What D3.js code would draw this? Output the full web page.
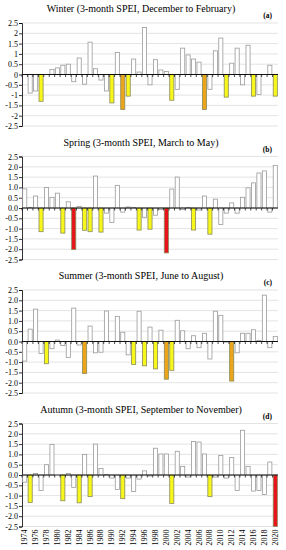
<!DOCTYPE html>
<html>
<head>
<meta charset="utf-8">
<script src="https://cdn.jsdelivr.net/npm/d3@7"></script>
<style>
  body { margin: 0; background: #fff; }
  text { font-family: "Liberation Serif", "DejaVu Serif", serif; fill: #000; }
</style>
</head>
<body>
<script>
// years 1974 - 2020
let years = d3.range(1974, 2021);

let winter = [0, -0.9, -0.8, -1.3, 0, 0.25, 0.32, 0.45, 0.5, -0.35, 0.8, -0.47, 1.57, 0.28, -0.27, -0.8,
  -1.38, 1.07, -1.7, -1.05, 0.75, 0.12, 2.28, -0.5, 0.72, 0.22, 0.15, -1.25, -0.72, 1.28, 0.95, 0.75,
  0.6, -1.7, -0.72, 1.15, 1.77, -1.1, 0.55, 1.28, -0.5, 1.42, -1.05, -0.97, 0, 0.45, -1.05];

let spring = [0.93, 0.03, 0.58, -1.15, 1.0, 0.52, 0.72, -1.22, 0.3, -2.02, 0.08, -1.08, -1.15, 1.55, -1.17, -0.25,
  -0.7, 1.1, -0.2, 0.05, 0.03, -1.07, -0.45, -1.03, -0.35, -0.08, -2.18, 0.92, 1.5, -0.08, 0.03, -1.07,
  -0.1, 0.58, -1.27, 0.43, -0.8, -0.25, 0.25, -0.25, 0.52, 0.98, 1.22, 1.7, 1.8, -0.2, 2.07];

let summer = [-0.95, 0.6, 1.57, -0.58, -1.08, -0.35, 0.07, -0.2, -0.78, 1.62, -0.17, -1.55, 0.75, -0.55, -0.52, 1.48,
  0, 1.22, 0.45, -0.65, -1.12, 1.47, -1.18, 0.7, -1.33, 0.55, -1.83, -1.4, 1.03, 0.52, -0.35, 0.28,
  -0.3, 0.4, -0.85, 1.47, 1.27, -0.03, -1.92, -0.55, 0.4, 0.4, 0.57, 0.05, 2.25, -0.3, 0.25];

let autumn = [-0.35, -1.33, 0.07, -0.75, 0.5, 1.48, 0, -1.25, 0.07, -0.6, -1.35, 1.0, -1.05, 1.5, 0.32, 0.03,
  -0.15, -0.7, -1.15, -0.15, -0.8, -0.2, 0.2, -0.05, 1.3, 1.02, 1.02, -1.38, 1.15, 0.42, -0.1, 1.63,
  1.6, 1.02, -1.05, -0.1, 0.95, -0.15, 0.85, -0.75, 2.17, 0.42, -0.78, -0.75, -0.95, 0.63, -2.5];

let titles = ["Winter (3-month SPEI, December to February)",
  "Spring (3-month SPEI, March to May)",
  "Summer (3-month SPEI, June to August)",
  "Autumn (3-month SPEI, September to November)"];
let letters = ["(a)", "(b)", "(c)", "(d)"];
let yTicks = [2.5, 2, 1.5, 1, 0.5, 0, -0.5, -1, -1.5, -2, -2.5];

let series = [winter, spring, summer, autumn];

let W = 286, H = 550;
let svg = d3.select("body").append("svg")
  .attr("width", W)
  .attr("height", H);

let x = d3.scaleBand().domain(years).range([22, 278]).paddingInner(0.1).paddingOuter(0.05);

// drought classes
let color = d3.scaleThreshold()
  .domain([-2, -1.5, -1])
  .range(["#e8131b", "#eca41a", "#f7f71c", "#ffffff"]);
let stroke = d3.scaleThreshold()
  .domain([-1])
  .range(["#8a8a5a", "#9a9a9a"]);

series.forEach(function(vals, k){
  let top = 23 + k * 133.5;
  let y = d3.scaleLinear().domain([-2.5, 2.5]).range([top + 103, top]);
  let g = svg.append("g");

  // title
  g.append("text")
    .attr("x", 141)
    .attr("y", top - 11)
    .attr("text-anchor", "middle")
    .style("font-size", "10px")
    .text(titles[k]);
  g.append("text")
    .attr("x", 272)
    .attr("y", top - 5)
    .attr("text-anchor", "end")
    .style("font-size", "7.5px")
    .style("font-weight", "bold")
    .text(letters[k]);

  // gridlines
  g.selectAll(".grid").data(yTicks.filter(d => d != 0)).enter()
    .append("line")
    .attr("x1", 22).attr("x2", 278)
    .attr("y1", d => y(d)).attr("y2", d => y(d))
    .attr("stroke", "#dcdcdc")
    .attr("stroke-width", 0.8);

  // y axis
  let fmt = k == 0 ? (d => String(d)) : (d => d.toFixed(1));
  let yAxis = g.append("g")
    .attr("transform", "translate(22,0)")
    .call(d3.axisLeft(y).tickValues(yTicks).tickSize(3).tickFormat(fmt));
  yAxis.select(".domain").attr("stroke", "#000").attr("stroke-width", 0.8);
  yAxis.selectAll(".tick line").attr("stroke", "#000").attr("stroke-width", 0.8);
  yAxis.selectAll(".tick text")
    .attr("x", -4)
    .style("font-family", "Liberation Serif, serif")
    .style("font-size", "8px");

  // bars
  g.selectAll(".bar").data(vals).enter()
    .append("rect")
    .attr("class", "bar")
    .attr("x", (d, i) => x(years[i]) + 0.4)
    .attr("width", x.bandwidth() - 0.8)
    .attr("y", d => y(Math.max(0, d)))
    .attr("height", d => Math.abs(y(d) - y(0)))
    .attr("fill", d => color(d))
    .attr("stroke", d => stroke(d))
    .attr("stroke-width", 0.8);

  // zero line with ticks between categories
  g.append("line")
    .attr("x1", 22).attr("x2", 278)
    .attr("y1", y(0)).attr("y2", y(0))
    .attr("stroke", "#000")
    .attr("stroke-width", 0.9);
  g.selectAll(".ztick").data(years).enter()
    .append("line")
    .attr("x1", d => x(d) - x.step() * x.paddingInner() / 2)
    .attr("x2", d => x(d) - x.step() * x.paddingInner() / 2)
    .attr("y1", y(0)).attr("y2", y(0) + 2.5)
    .attr("stroke", "#000")
    .attr("stroke-width", 0.7);

  // year labels only under last panel
  if (k == 3) {
    g.selectAll(".yr").data(years.filter(d => d % 2 == 0)).enter()
      .append("text")
      .attr("transform", d => "translate(" + (x(d) + x.bandwidth() / 2 + 2.5) + "," + (top + 106) + ") rotate(-90)")
      .attr("text-anchor", "end")
      .style("font-size", "8px")
      .text(d => d);
  }
});
</script>
</body>
</html>
